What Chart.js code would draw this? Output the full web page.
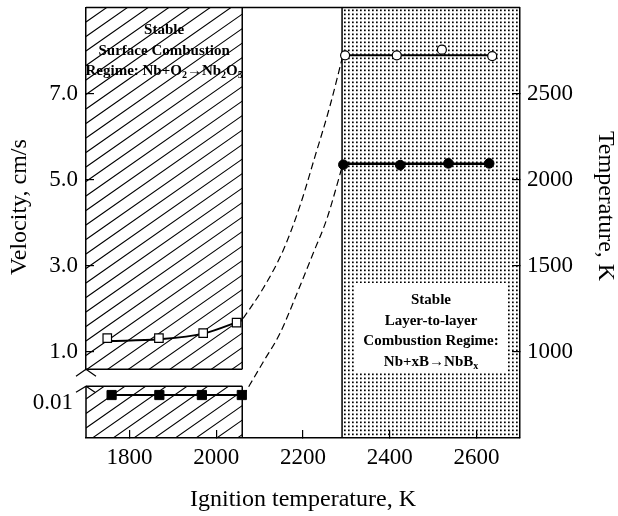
<!DOCTYPE html>
<html>
<head>
<meta charset="utf-8">
<script src="https://cdn.jsdelivr.net/npm/chart.js@4"></script>
<style>
  html, body { margin: 0; padding: 0; background: #fff; }
  canvas { display: block; }
</style>
</head>
<body>
<canvas id="chart" width="618" height="516"></canvas>
<script>
// Surface combustion regime (Nb + O2): combustion temperature, open squares
const surfTempIgn = [1749, 1868, 1970, 2047];
const surfTemp = [1080, 1080, 1109, 1170];
const surfTempFitIgn = [1751, 1868, 1970, 2059];
const surfTempFit = [1063, 1073, 1106, 1183];
// Surface combustion regime: velocity, filled squares (lower, broken panel)
const surfVelIgn = [1759, 1869, 1967, 2059];
const surfVel = [0.01, 0.01, 0.01, 0.01];
// Layer-to-layer regime (Nb + xB): combustion temperature, open circles
const layerTempIgn = [2297, 2416, 2520, 2636];
const layerTemp = [2722, 2722, 2755, 2718];
const layerTempFitIgn = [2290, 2647];
const layerTempFit = [2722, 2722];
// Layer-to-layer regime: velocity, filled circles
const layerVelIgn = [2293, 2424, 2535, 2629];
const layerVel = [5.35, 5.34, 5.38, 5.38];
const layerVelFitIgn = [2290, 2638];
const layerVelFit = [5.37, 5.37];
// Dashed transition guides between the two regimes (right-axis units)
const guideUpperIgn = [2062, 2108, 2154, 2193, 2228, 2262, 2292];
const guideUpper = [1194, 1368, 1588, 1848, 2138, 2427, 2722];
const guideLowerIgn = [2062, 2108, 2147, 2186, 2223, 2255, 2292];
const guideLower = [743, 940, 1108, 1339, 1570, 1773, 2091];
// Regime bands along the ignition-temperature axis
const surfaceRegime = [1700, 2060];
const layerRegime = [2290, 2700];
// Tick values
const xTicks = [1800, 2000, 2200, 2400, 2600];
const velTicks = [1, 3, 5, 7];
const velLowTicks = [0.01];
const tempTicks = [1000, 1500, 2000, 2500];
// Axis titles and band captions
const xTitle = 'Ignition temperature, K';
const velTitle = 'Velocity, cm/s';
const tempTitle = 'Temperature, K';
const surfaceCaption = [
  [['Stable']],
  [['Surface Combustion']],
  [['Regime: Nb+O'], ['2', 1], ['→Nb'], ['2', 1], ['O'], ['5', 1]]
];
const layerCaption = [
  [['Stable']],
  [['Layer-to-layer']],
  [['Combustion Regime:']],
  [['Nb+xB→NbB'], ['x', 1]]
];

const SERIF = '"Liberation Serif", "Times New Roman", serif';
const BREAK_GAP = 17;

function pts(xs, ys) { return xs.map((v, i) => ({ x: v, y: ys[i] })); }
function fixTicks(list) { return (scale) => { scale.ticks = list.map(v => ({ value: v })); }; }
function fixSize(w, h) {
  return (scale) => {
    if (w != null) scale.width = w;
    if (h != null) scale.height = h;
    scale.paddingTop = 0; scale.paddingBottom = 0;
    scale.paddingLeft = 0; scale.paddingRight = 0;
  };
}

function drawRuns(ctx, runs, cx, y, size) {
  const big = 'bold ' + size + 'px ' + SERIF;
  const small = 'bold ' + Math.round(size * 0.68) + 'px ' + SERIF;
  let total = 0;
  runs.forEach(r => { ctx.font = r[1] ? small : big; total += ctx.measureText(r[0]).width; });
  let xx = cx - total / 2;
  ctx.textAlign = 'left';
  ctx.textBaseline = 'alphabetic';
  runs.forEach(r => {
    ctx.font = r[1] ? small : big;
    ctx.fillText(r[0], xx, y + (r[1] ? size * 0.22 : 0));
    xx += ctx.measureText(r[0]).width;
  });
}

const regimePlugin = {
  id: 'regimes',
  beforeDraw(chart) {
    const { ctx, chartArea: a, scales: { x, yV, yL } } = chart;
    ctx.save();
    ctx.fillStyle = '#fff';
    ctx.fillRect(0, 0, chart.width, chart.height);

    // dotted band: layer-to-layer regime
    const dx0 = x.getPixelForValue(layerRegime[0]);
    const dx1 = x.getPixelForValue(layerRegime[1]);
    ctx.fillStyle = '#000';
    for (let yy = a.top + 2; yy < a.bottom - 1; yy += 4) {
      for (let xx = Math.round(dx0) + 2; xx < dx1 - 1; xx += 4) {
        ctx.fillRect(xx, yy, 1.7, 1.7);
      }
    }
    // caption box inside the dotted band
    const cx = (dx0 + dx1) / 2;
    ctx.fillStyle = '#fff';
    ctx.fillRect(cx - 76, 283, 152, 90);

    // hatched band: surface regime, split by the axis break
    const hx0 = x.getPixelForValue(surfaceRegime[0]);
    const hx1 = x.getPixelForValue(surfaceRegime[1]);
    const panels = [[a.top, yV.bottom], [yL.top + BREAK_GAP, a.bottom]];
    ctx.strokeStyle = '#000';
    ctx.lineWidth = 1.1;
    const slope = 0.7, step = 14.5, w = hx1 - hx0;
    panels.forEach(([t, b]) => {
      ctx.save();
      ctx.beginPath();
      ctx.rect(hx0, t, w, b - t);
      ctx.clip();
      ctx.beginPath();
      for (let c = a.top; c < a.bottom + slope * w + step; c += step) {
        ctx.moveTo(hx0, c);
        ctx.lineTo(hx1, c - slope * w);
      }
      ctx.stroke();
      ctx.restore();
    });
    ctx.restore();
  },
  beforeDatasetsDraw(chart) {
    const { ctx, chartArea: a, scales: { x, yV, yL } } = chart;
    const hx1 = x.getPixelForValue(surfaceRegime[1]);
    const dx0 = x.getPixelForValue(layerRegime[0]);
    const upBottom = yV.bottom;
    const lowTop = yL.top + BREAK_GAP;
    ctx.save();
    ctx.strokeStyle = '#000';
    ctx.lineWidth = 1.5;
    ctx.beginPath();
    ctx.moveTo(a.left, a.top); ctx.lineTo(a.right, a.top);
    ctx.moveTo(hx1, a.top); ctx.lineTo(hx1, upBottom);
    ctx.moveTo(a.left, upBottom); ctx.lineTo(hx1, upBottom);
    ctx.moveTo(a.left, lowTop); ctx.lineTo(hx1, lowTop);
    ctx.moveTo(a.left, lowTop); ctx.lineTo(a.left, a.bottom);
    ctx.moveTo(hx1, lowTop); ctx.lineTo(hx1, a.bottom);
    ctx.moveTo(dx0, a.top); ctx.lineTo(dx0, a.bottom);
    ctx.stroke();
    // axis break marks
    ctx.lineWidth = 1.2;
    ctx.beginPath();
    ctx.moveTo(a.left - 10, upBottom + 7); ctx.lineTo(a.left, upBottom); ctx.lineTo(a.left + 10, upBottom + 7);
    ctx.moveTo(a.left - 10, lowTop + 6); ctx.lineTo(a.left, lowTop); ctx.lineTo(a.left + 9, lowTop + 6);
    ctx.stroke();
    ctx.restore();
  },
  afterDatasetsDraw(chart) {
    const { ctx, scales: { x } } = chart;
    ctx.save();
    ctx.fillStyle = '#000';
    const hcx = (x.getPixelForValue(surfaceRegime[0]) + x.getPixelForValue(surfaceRegime[1])) / 2;
    surfaceCaption.forEach((runs, i) => drawRuns(ctx, runs, hcx, 34 + i * 20.5, 15));
    const dcx = (x.getPixelForValue(layerRegime[0]) + x.getPixelForValue(layerRegime[1])) / 2;
    layerCaption.forEach((runs, i) => drawRuns(ctx, runs, dcx, 304 + i * 20.7, 15));
    ctx.restore();
  },
  afterDraw(chart) {
    const { ctx } = chart;
    ctx.save();
    ctx.fillStyle = '#000';
    ctx.font = '24px ' + SERIF;
    ctx.textAlign = 'center';
    ctx.textBaseline = 'middle';
    ctx.translate(20, 207);
    ctx.rotate(-Math.PI / 2);
    ctx.fillText(velTitle, 0, 0);
    ctx.restore();
    ctx.save();
    ctx.fillStyle = '#000';
    ctx.font = '24px ' + SERIF;
    ctx.textAlign = 'center';
    ctx.textBaseline = 'middle';
    ctx.translate(605, 206);
    ctx.rotate(Math.PI / 2);
    ctx.fillText(tempTitle, 0, 0);
    ctx.restore();
  }
};

const tickFont = { family: SERIF, size: 23 };
const axisGrid = { drawOnChartArea: false, drawTicks: true, tickLength: -8, color: '#000', lineWidth: 1.2 };
const axisBorder = { display: true, color: '#000', width: 1.5 };

new Chart(document.getElementById('chart'), {
  type: 'scatter',
  data: {
    datasets: [
      { data: pts(surfTempIgn, surfTemp), yAxisID: 'yT', showLine: false,
        pointStyle: 'rect', pointRadius: 6, pointBackgroundColor: '#fff', pointBorderColor: '#000', pointBorderWidth: 1.2 },
      { data: pts(surfVelIgn, surfVel), yAxisID: 'yL', showLine: true, borderColor: '#000', borderWidth: 2,
        pointStyle: 'rect', pointRadius: 6.5, pointBackgroundColor: '#000', pointBorderColor: '#000', pointBorderWidth: 1 },
      { data: pts(layerTempIgn, layerTemp), yAxisID: 'yT', showLine: false,
        pointStyle: 'circle', pointRadius: 4.5, pointBackgroundColor: '#fff', pointBorderColor: '#000', pointBorderWidth: 1.2 },
      { data: pts(layerVelIgn, layerVel), yAxisID: 'yV', showLine: false,
        pointStyle: 'circle', pointRadius: 4.8, pointBackgroundColor: '#000', pointBorderColor: '#000', pointBorderWidth: 1 },
      { data: pts(surfTempFitIgn, surfTempFit), yAxisID: 'yT', showLine: true, borderColor: '#000', borderWidth: 2,
        pointRadius: 0, cubicInterpolationMode: 'monotone' },
      { data: pts(layerTempFitIgn, layerTempFit), yAxisID: 'yT', showLine: true, borderColor: '#000', borderWidth: 2, pointRadius: 0 },
      { data: pts(layerVelFitIgn, layerVelFit), yAxisID: 'yV', showLine: true, borderColor: '#000', borderWidth: 2.4, pointRadius: 0 },
      { data: pts(guideUpperIgn, guideUpper), yAxisID: 'yT', showLine: true, borderColor: '#000', borderWidth: 1.2,
        borderDash: [7, 4], pointRadius: 0, cubicInterpolationMode: 'monotone' },
      { data: pts(guideLowerIgn, guideLower), yAxisID: 'yT', showLine: true, borderColor: '#000', borderWidth: 1.2,
        borderDash: [7, 4], pointRadius: 0, cubicInterpolationMode: 'monotone' }
    ]
  },
  options: {
    responsive: false,
    animation: false,
    devicePixelRatio: 1,
    layout: { padding: { top: 6, left: 0, right: 0, bottom: 0 } },
    plugins: { legend: { display: false }, tooltip: { enabled: false } },
    events: [],
    scales: {
      x: {
        type: 'linear', position: 'bottom', min: 1700, max: 2700,
        afterBuildTicks: fixTicks(xTicks), afterFit: fixSize(null, 78),
        grid: axisGrid, border: axisBorder,
        ticks: { font: tickFont, color: '#000', padding: 14, maxRotation: 0, callback: v => String(v) },
        title: { display: true, text: xTitle, color: '#000', font: { family: SERIF, size: 24 }, padding: { top: 0, bottom: 2 } }
      },
      yV: {
        type: 'linear', position: 'left', stack: 'vel', stackWeight: 363, weight: 1,
        min: 0.6, max: 9.0,
        afterBuildTicks: fixTicks(velTicks), afterFit: fixSize(86, null),
        grid: axisGrid, border: axisBorder,
        ticks: { font: tickFont, color: '#000', padding: 16, callback: v => v.toFixed(1) }
      },
      yL: {
        type: 'linear', position: 'left', stack: 'vel', stackWeight: 69, weight: 0,
        min: 0, max: 0.016,
        afterBuildTicks: fixTicks(velLowTicks), afterFit: fixSize(86, null),
        grid: { display: false, drawTicks: false }, border: { display: false },
        ticks: { font: tickFont, color: '#000', padding: 13, labelOffset: 8, callback: v => String(v) }
      },
      yT: {
        type: 'linear', position: 'right', min: 500, max: 3000,
        afterBuildTicks: fixTicks(tempTicks), afterFit: fixSize(98, null),
        grid: axisGrid, border: axisBorder,
        ticks: { font: tickFont, color: '#000', padding: 15, callback: v => String(v) }
      }
    }
  },
  plugins: [regimePlugin]
});
</script>
</body>
</html>
